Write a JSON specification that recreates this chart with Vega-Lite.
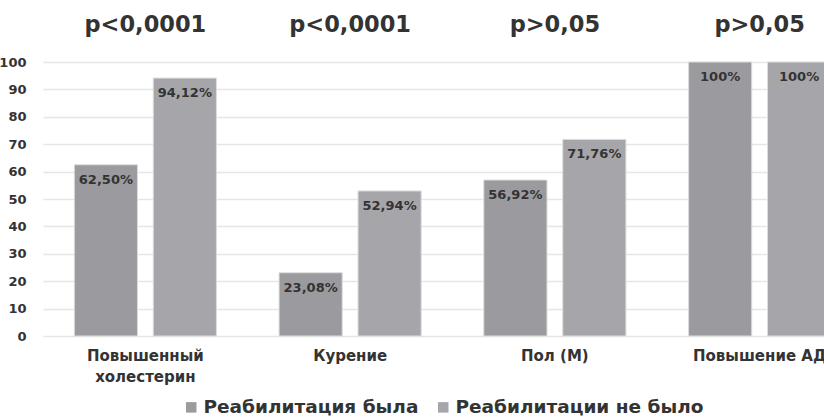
{
  "$schema": "https://vega.github.io/schema/vega-lite/v6.json",
  "autosize": {"type": "none"},
  "width": 819,
  "height": 274,
  "padding": {"left": 43, "top": 62, "right": -38, "bottom": 81},
  "background": "white",
  "config": {
    "view": {"stroke": null},
    "font": "DejaVu Sans"
  },
  "datasets": {
    "bars": [
      {"cat": "Повышенный холестерин", "group": "Реабилитация была", "value": 62.5, "label": "62,50%"},
      {"cat": "Повышенный холестерин", "group": "Реабилитации не было", "value": 94.12, "label": "94,12%"},
      {"cat": "Курение", "group": "Реабилитация была", "value": 23.08, "label": "23,08%"},
      {"cat": "Курение", "group": "Реабилитации не было", "value": 52.94, "label": "52,94%"},
      {"cat": "Пол (М)", "group": "Реабилитация была", "value": 56.92, "label": "56,92%"},
      {"cat": "Пол (М)", "group": "Реабилитации не было", "value": 71.76, "label": "71,76%"},
      {"cat": "Повышение АД", "group": "Реабилитация была", "value": 100, "label": "100%"},
      {"cat": "Повышение АД", "group": "Реабилитации не было", "value": 100, "label": "100%"}
    ],
    "pvals": [
      {"cat": "Повышенный холестерин", "p": "p<0,0001"},
      {"cat": "Курение", "p": "p<0,0001"},
      {"cat": "Пол (М)", "p": "p>0,05"},
      {"cat": "Повышение АД", "p": "p>0,05"}
    ]
  },
  "layer": [
    {
      "data": {"name": "bars"},
      "mark": {"type": "bar", "stroke": "#dcdcdc", "strokeWidth": 1},
      "encoding": {
        "x": {
          "field": "cat", "type": "nominal", "sort": null,
          "scale": {"paddingInner": 0.306, "paddingOuter": 0.153},
          "axis": {
            "title": null, "domain": false, "ticks": false,
            "labelAngle": 0, "labelFont": "DejaVu Sans", "labelFontWeight": "bold",
            "labelFontSize": 15, "labelColor": "#333333", "labelPadding": 12,
            "labelLineHeight": 21, "labelBaseline": "top", "labelLimit": 400,
            "labelExpr": "datum.value == 'Повышенный холестерин' ? ['Повышенный', 'холестерин'] : datum.value"
          }
        },
        "xOffset": {
          "field": "group", "type": "nominal", "sort": null,
          "scale": {"paddingInner": 0.2, "paddingOuter": 0}
        },
        "y": {
          "field": "value", "type": "quantitative",
          "scale": {"domain": [0, 100], "nice": false},
          "axis": {
            "title": null, "domain": false, "ticks": false,
            "values": [0, 10, 20, 30, 40, 50, 60, 70, 80, 90, 100],
            "labelOverlap": false,
            "gridColor": "#e6e6e6", "gridWidth": 1.5,
            "labelFont": "DejaVu Sans", "labelFontWeight": "bold",
            "labelFontSize": 13, "labelColor": "#333333", "labelPadding": 17
          }
        },
        "color": {
          "field": "group", "type": "nominal", "sort": null,
          "scale": {"range": ["#9b9b9f", "#a6a6aa"]},
          "legend": {
            "title": null, "orient": "none", "direction": "horizontal",
            "legendX": 139, "legendY": 336,
            "symbolType": "square", "symbolSize": 110, "symbolStrokeWidth": 0,
            "labelFont": "DejaVu Sans", "labelFontWeight": "bold",
            "labelFontSize": 18.5, "labelColor": "#333333", "labelLimit": 500,
            "labelOffset": 3, "columnPadding": 15
          }
        }
      }
    },
    {
      "data": {"name": "bars"},
      "mark": {"type": "text", "baseline": "middle", "dy": 15, "font": "DejaVu Sans", "fontWeight": "bold", "fontSize": 13, "color": "#333333"},
      "encoding": {
        "x": {"field": "cat", "type": "nominal", "sort": null},
        "xOffset": {"field": "group", "type": "nominal", "sort": null},
        "y": {
          "field": "value", "type": "quantitative",
          "axis": {
            "title": null, "domain": false, "ticks": false,
            "values": [0, 10, 20, 30, 40, 50, 60, 70, 80, 90, 100],
            "labelOverlap": false,
            "gridColor": "#e6e6e6", "gridWidth": 1.5,
            "labelFont": "DejaVu Sans", "labelFontWeight": "bold",
            "labelFontSize": 13, "labelColor": "#333333", "labelPadding": 17
          }
        },
        "text": {"field": "label"}
      }
    },
    {
      "data": {"name": "pvals"},
      "mark": {"type": "text", "baseline": "middle", "font": "DejaVu Sans", "fontWeight": "bold", "fontSize": 22.5, "color": "#333333"},
      "encoding": {
        "x": {"field": "cat", "type": "nominal", "sort": null},
        "y": {
          "datum": 113.5, "type": "quantitative",
          "axis": {
            "title": null, "domain": false, "ticks": false,
            "values": [0, 10, 20, 30, 40, 50, 60, 70, 80, 90, 100],
            "labelOverlap": false,
            "gridColor": "#e6e6e6", "gridWidth": 1.5,
            "labelFont": "DejaVu Sans", "labelFontWeight": "bold",
            "labelFontSize": 13, "labelColor": "#333333", "labelPadding": 17
          }
        },
        "text": {"field": "p"}
      }
    }
  ]
}
